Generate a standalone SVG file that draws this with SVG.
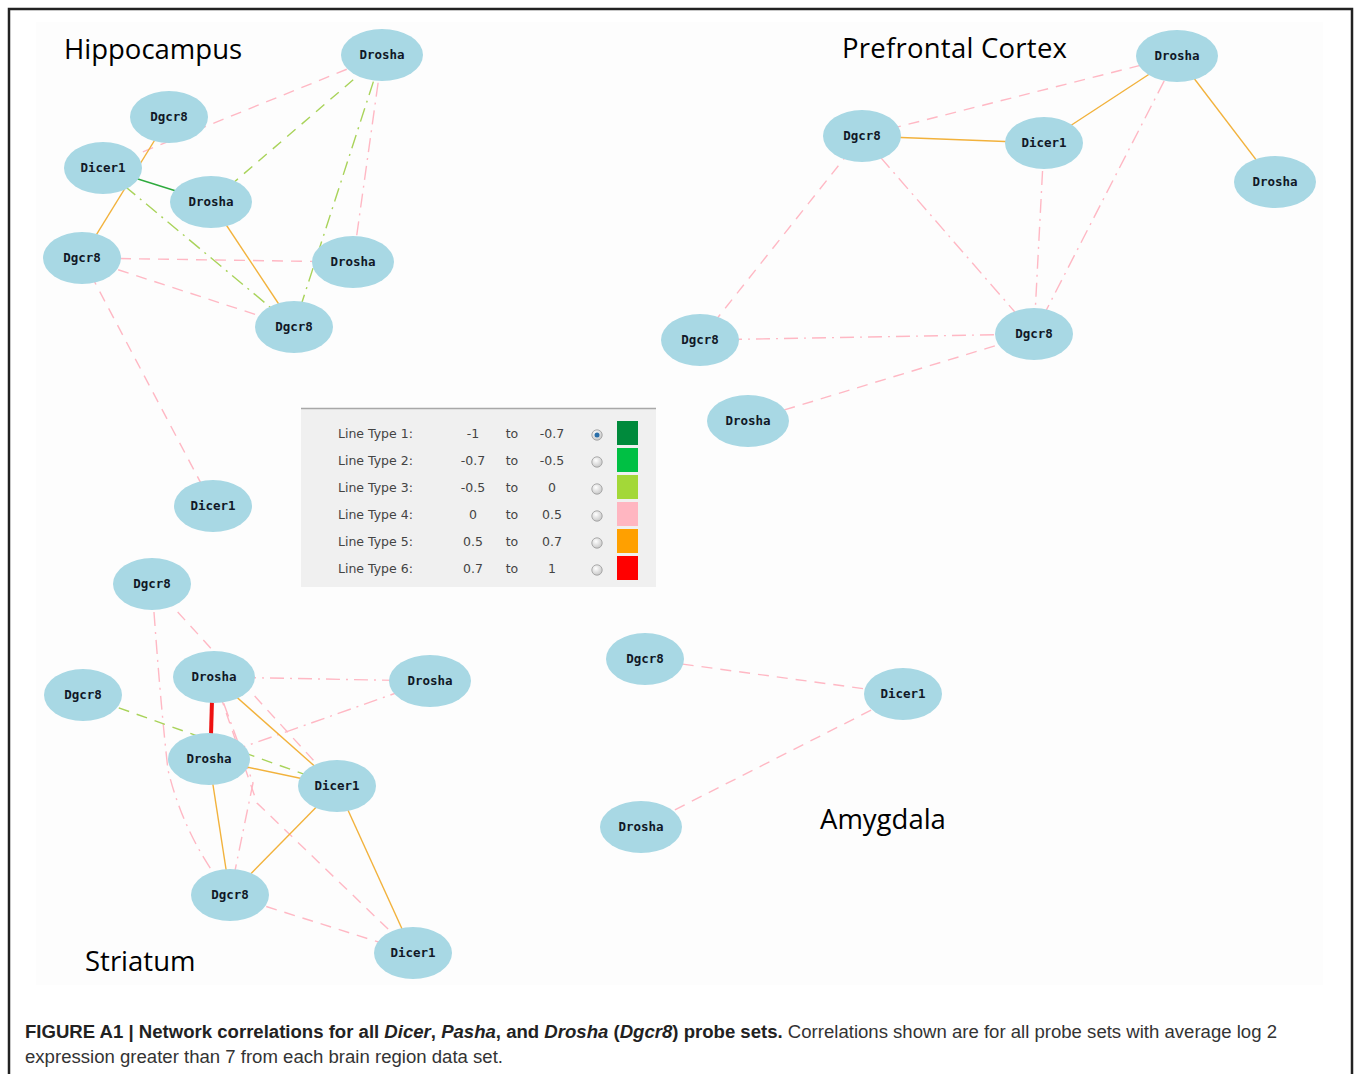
<svg xmlns="http://www.w3.org/2000/svg" width="1357" height="1074" viewBox="0 0 1357 1074">
<style>
.node ellipse{fill:#a8d8e4;}
.node text{font-family:"DejaVu Sans Mono","Liberation Mono",monospace;font-weight:bold;font-size:12.5px;fill:#111827;text-anchor:middle;}
.title{font-family:"Open Sans","Liberation Sans",sans-serif;font-size:27.5px;fill:#000;}
.e{fill:none;stroke-width:1.4;}
.pd{stroke:#ffb8c4;stroke-dasharray:11 8;}
.pdd{stroke:#ffb8c4;stroke-dasharray:14 6 2 6;}
.yd{stroke:#a9d35a;stroke-dasharray:11 8;}
.ydd{stroke:#a9d35a;stroke-dasharray:14 6 2 6;}
.o{stroke:#f2b23c;}
.g{stroke:#2eaa3e;}
.r{stroke:#ee1111;stroke-width:4;}
.lg{font-family:"DejaVu Sans",Verdana,sans-serif;font-size:12.5px;fill:#444;}
.cap{font-family:"Liberation Sans",Arial,sans-serif;font-size:17.5px;fill:#333;}
</style>
<defs>
<radialGradient id="rb" cx="0.4" cy="0.35" r="0.7">
<stop offset="0" stop-color="#ffffff"/><stop offset="1" stop-color="#c4c4c4"/>
</radialGradient>
</defs>
<rect width="1357" height="1074" fill="#ffffff"/>
<rect x="36" y="22" width="1287" height="963" fill="#fdfdfd"/>
<path d="M9,1074 V9 H1352 V1074" fill="none" stroke="#222" stroke-width="2.5"/>

<g id="titles">
<text class="title" x="64" y="59">Hippocampus</text>
<text class="title" x="842" y="58" textLength="225">Prefrontal Cortex</text>
<text class="title" x="85" y="971">Striatum</text>
<text class="title" x="820" y="829">Amygdala</text>
</g>

<g id="connectors">
<!-- Hippocampus -->
<line class="e pd" x1="382" y1="55" x2="103" y2="168"/>
<line class="e yd" x1="382" y1="55" x2="211" y2="202"/>
<line class="e ydd" x1="382" y1="55" x2="294" y2="327"/>
<line class="e pdd" x1="382" y1="55" x2="353" y2="262"/>
<line class="e o" x1="169" y1="117" x2="82" y2="258"/>
<line class="e g" x1="103" y1="168" x2="211" y2="202"/>
<line class="e ydd" x1="103" y1="168" x2="294" y2="327"/>
<line class="e o" x1="211" y1="202" x2="294" y2="327"/>
<line class="e pd" x1="82" y1="258" x2="353" y2="262"/>
<line class="e pd" x1="82" y1="258" x2="294" y2="327"/>
<line class="e pd" x1="82" y1="258" x2="213" y2="506"/>
<!-- Prefrontal Cortex -->
<line class="e pd" x1="1177" y1="56" x2="862" y2="136"/>
<line class="e o" x1="1177" y1="56" x2="1044" y2="143"/>
<line class="e o" x1="1177" y1="56" x2="1273" y2="182"/>
<line class="e pdd" x1="1177" y1="56" x2="1034" y2="334"/>
<line class="e o" x1="862" y1="136" x2="1044" y2="143"/>
<line class="e pd" x1="862" y1="136" x2="700" y2="340"/>
<line class="e pdd" x1="862" y1="136" x2="1034" y2="334"/>
<line class="e pdd" x1="1044" y1="143" x2="1034" y2="334"/>
<line class="e pdd" x1="700" y1="340" x2="1034" y2="334"/>
<line class="e pd" x1="748" y1="421" x2="1034" y2="334"/>
<!-- Striatum -->
<line class="e pd" x1="152" y1="584" x2="337" y2="786"/>
<path class="e pdd" d="M152,584 Q160,700 168,770 Q185,840 230,895"/>
<line class="e pdd" x1="214" y1="677" x2="430" y2="681"/>
<path class="e pdd" d="M430,681 L300,727 L209,759"/>
<path class="e pd" d="M214,677 L257,803 L413,953"/>
<path class="e pdd" d="M214,677 L253,783 L230,895"/>
<line class="e yd" x1="83" y1="695" x2="337" y2="786"/>
<line class="e o" x1="214" y1="677" x2="337" y2="786"/>
<line class="e o" x1="209" y1="759" x2="337" y2="786"/>
<line class="e o" x1="209" y1="759" x2="230" y2="895"/>
<line class="e o" x1="337" y1="786" x2="230" y2="895"/>
<line class="e o" x1="337" y1="786" x2="413" y2="953"/>
<line class="e pd" x1="230" y1="895" x2="413" y2="953"/>
<line class="e r" x1="212" y1="700" x2="211" y2="735"/>
<!-- Amygdala -->
<line class="e pd" x1="645" y1="659" x2="903" y2="694"/>
<line class="e pd" x1="641" y1="827" x2="903" y2="694"/>
</g>

<!-- Hippocampus nodes -->
<g id="hip-drosha1" class="node"><ellipse cx="382" cy="55" rx="41" ry="26"/><text x="382" y="59">Drosha</text></g>
<g id="hip-dgcr8-1" class="node"><ellipse cx="169" cy="117" rx="39" ry="26"/><text x="169" y="121">Dgcr8</text></g>
<g id="hip-dicer1-1" class="node"><ellipse cx="103" cy="168" rx="39" ry="26"/><text x="103" y="172">Dicer1</text></g>
<g id="hip-drosha2" class="node"><ellipse cx="211" cy="202" rx="41" ry="26"/><text x="211" y="206">Drosha</text></g>
<g id="hip-dgcr8-2" class="node"><ellipse cx="82" cy="258" rx="39" ry="26"/><text x="82" y="262">Dgcr8</text></g>
<g id="hip-drosha3" class="node"><ellipse cx="353" cy="262" rx="41" ry="26"/><text x="353" y="266">Drosha</text></g>
<g id="hip-dgcr8-3" class="node"><ellipse cx="294" cy="327" rx="39" ry="26"/><text x="294" y="331">Dgcr8</text></g>
<g id="hip-dicer1-2" class="node"><ellipse cx="213" cy="506" rx="39" ry="26"/><text x="213" y="510">Dicer1</text></g>

<!-- Prefrontal nodes -->
<g id="pfc-drosha1" class="node"><ellipse cx="1177" cy="56" rx="41" ry="26"/><text x="1177" y="60">Drosha</text></g>
<g id="pfc-dgcr8-1" class="node"><ellipse cx="862" cy="136" rx="39" ry="26"/><text x="862" y="140">Dgcr8</text></g>
<g id="pfc-dicer1" class="node"><ellipse cx="1044" cy="143" rx="39" ry="26"/><text x="1044" y="147">Dicer1</text></g>
<g id="pfc-drosha2" class="node"><ellipse cx="1275" cy="182" rx="41" ry="26"/><text x="1275" y="186">Drosha</text></g>
<g id="pfc-dgcr8-2" class="node"><ellipse cx="700" cy="340" rx="39" ry="26"/><text x="700" y="344">Dgcr8</text></g>
<g id="pfc-dgcr8-3" class="node"><ellipse cx="1034" cy="334" rx="39" ry="26"/><text x="1034" y="338">Dgcr8</text></g>
<g id="pfc-drosha3" class="node"><ellipse cx="748" cy="421" rx="41" ry="26"/><text x="748" y="425">Drosha</text></g>

<!-- Striatum nodes -->
<g id="str-dgcr8-1" class="node"><ellipse cx="152" cy="584" rx="39" ry="26"/><text x="152" y="588">Dgcr8</text></g>
<g id="str-drosha1" class="node"><ellipse cx="214" cy="677" rx="41" ry="26"/><text x="214" y="681">Drosha</text></g>
<g id="str-drosha2" class="node"><ellipse cx="430" cy="681" rx="41" ry="26"/><text x="430" y="685">Drosha</text></g>
<g id="str-dgcr8-2" class="node"><ellipse cx="83" cy="695" rx="39" ry="26"/><text x="83" y="699">Dgcr8</text></g>
<g id="str-drosha3" class="node"><ellipse cx="209" cy="759" rx="41" ry="26"/><text x="209" y="763">Drosha</text></g>
<g id="str-dicer1-1" class="node"><ellipse cx="337" cy="786" rx="39" ry="26"/><text x="337" y="790">Dicer1</text></g>
<g id="str-dgcr8-3" class="node"><ellipse cx="230" cy="895" rx="39" ry="26"/><text x="230" y="899">Dgcr8</text></g>
<g id="str-dicer1-2" class="node"><ellipse cx="413" cy="953" rx="39" ry="26"/><text x="413" y="957">Dicer1</text></g>

<!-- Amygdala nodes -->
<g id="amy-dgcr8" class="node"><ellipse cx="645" cy="659" rx="39" ry="26"/><text x="645" y="663">Dgcr8</text></g>
<g id="amy-dicer1" class="node"><ellipse cx="903" cy="694" rx="39" ry="26"/><text x="903" y="698">Dicer1</text></g>
<g id="amy-drosha" class="node"><ellipse cx="641" cy="827" rx="41" ry="26"/><text x="641" y="831">Drosha</text></g>

<!-- Legend -->
<g id="legend">
<rect x="301" y="408" width="355" height="179" fill="#f0f0f0"/>
<line x1="301" y1="408.5" x2="656" y2="408.5" stroke="#a8a8a8" stroke-width="1.5"/>
<g class="lg">
<text x="338" y="438">Line Type 1:</text>
<text x="338" y="465">Line Type 2:</text>
<text x="338" y="492">Line Type 3:</text>
<text x="338" y="519">Line Type 4:</text>
<text x="338" y="546">Line Type 5:</text>
<text x="338" y="573">Line Type 6:</text>
</g>
<g class="lg" text-anchor="middle">
<text x="473" y="438">-1</text><text x="512" y="438">to</text><text x="552" y="438">-0.7</text>
<text x="473" y="465">-0.7</text><text x="512" y="465">to</text><text x="552" y="465">-0.5</text>
<text x="473" y="492">-0.5</text><text x="512" y="492">to</text><text x="552" y="492">0</text>
<text x="473" y="519">0</text><text x="512" y="519">to</text><text x="552" y="519">0.5</text>
<text x="473" y="546">0.5</text><text x="512" y="546">to</text><text x="552" y="546">0.7</text>
<text x="473" y="573">0.7</text><text x="512" y="573">to</text><text x="552" y="573">1</text>
</g>
<g fill="url(#rb)" stroke="#9a9a9a" stroke-width="0.8">
<circle cx="597" cy="435" r="5.2"/>
<circle cx="597" cy="462" r="5.2"/>
<circle cx="597" cy="489" r="5.2"/>
<circle cx="597" cy="516" r="5.2"/>
<circle cx="597" cy="543" r="5.2"/>
<circle cx="597" cy="570" r="5.2"/>
</g>
<circle cx="597" cy="435" r="2.5" fill="#2a6ea8"/>
<rect x="617" y="421" width="21" height="24" fill="#008a3c"/>
<rect x="617" y="448" width="21" height="24" fill="#00c044"/>
<rect x="617" y="475" width="21" height="24" fill="#a3d838"/>
<rect x="617" y="502" width="21" height="24" fill="#ffb6c1"/>
<rect x="617" y="529" width="21" height="24" fill="#ffa000"/>
<rect x="617" y="556" width="21" height="24" fill="#ff0000"/>
</g>

<g id="caption">
<text class="cap" x="25" y="1038" textLength="1252" lengthAdjust="spacingAndGlyphs"><tspan font-weight="bold" fill="#222">FIGURE A1 | Network correlations for all <tspan font-style="italic">Dicer</tspan>, <tspan font-style="italic">Pasha</tspan>, and <tspan font-style="italic">Drosha</tspan> (<tspan font-style="italic">Dgcr8</tspan>) probe sets.</tspan> Correlations shown are for all probe sets with average log 2</text>
<text class="cap" x="25" y="1063" textLength="478" lengthAdjust="spacingAndGlyphs">expression greater than 7 from each brain region data set.</text>
</g>
</svg>
